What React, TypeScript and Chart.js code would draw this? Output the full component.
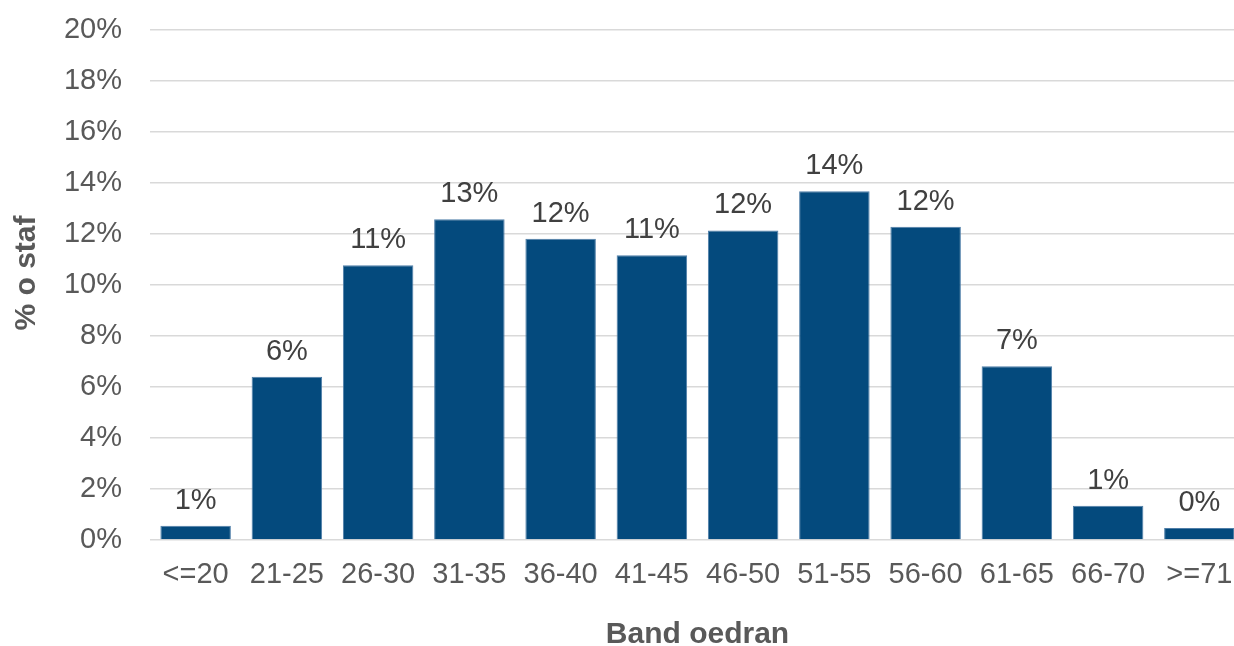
import React, { useEffect, useRef } from 'react';
import { Chart, registerables } from 'chart.js';

Chart.register(...registerables);

const categories = ['<=20', '21-25', '26-30', '31-35', '36-40', '41-45', '46-50', '51-55', '56-60', '61-65', '66-70', '>=71'];
const values = [0.56, 6.4, 10.77, 12.58, 11.81, 11.17, 12.14, 13.68, 12.28, 6.81, 1.34, 0.47];
const yTickValues = [0, 2, 4, 6, 8, 10, 12, 14, 16, 18, 20];
const xTitle = 'Band oedran';
const yTitle = '% o staf';

const FONT = "'Liberation Sans', Arial, sans-serif";
const TICK_COLOR = '#595959';
const LABEL_COLOR = '#404040';
const BAR_COLOR = '#044A7D';

const dataLabelPlugin = {
  id: 'dataLabels',
  afterDatasetsDraw(chart: any) {
    const ctx = chart.ctx;
    const meta = chart.getDatasetMeta(0);
    ctx.save();
    ctx.font = `29px ${FONT}`;
    ctx.fillStyle = LABEL_COLOR;
    ctx.textAlign = 'center';
    ctx.textBaseline = 'alphabetic';
    meta.data.forEach((bar: any, i: number) => {
      ctx.fillText(Math.round(values[i]) + '%', bar.x, bar.y - 17);
    });
    ctx.restore();
  },
};

const yTitlePlugin = {
  id: 'yTitle',
  afterDraw(chart: any) {
    const ctx = chart.ctx;
    const area = chart.chartArea;
    ctx.save();
    ctx.font = `bold 30px ${FONT}`;
    ctx.fillStyle = TICK_COLOR;
    ctx.textAlign = 'center';
    ctx.textBaseline = 'alphabetic';
    ctx.translate(35, (area.top + area.bottom) / 2 - 12);
    ctx.rotate(-Math.PI / 2);
    ctx.fillText(yTitle, 0, 0);
    ctx.restore();
  },
};

export default function App() {
  const canvasRef = useRef<HTMLCanvasElement | null>(null);

  useEffect(() => {
    if (!canvasRef.current) return;
    const chart = new Chart(canvasRef.current, {
      type: 'bar',
      data: {
        labels: categories,
        datasets: [
          {
            data: values,
            backgroundColor: BAR_COLOR,
            borderColor: '#4F7EA8',
            borderWidth: 1,
            borderSkipped: 'start',
            barPercentage: 0.7726,
            categoryPercentage: 1,
          },
        ],
      },
      options: {
        responsive: false,
        animation: false,
        devicePixelRatio: 1,
        layout: { padding: { top: 30, right: 0, bottom: 0, left: 0 } },
        plugins: {
          legend: { display: false },
          tooltip: { enabled: false },
          title: { display: false },
        },
        scales: {
          x: {
            grid: { display: false },
            border: { display: false },
            ticks: {
              color: TICK_COLOR,
              font: { family: FONT, size: 29 },
              padding: 10,
              maxRotation: 0,
              autoSkip: false,
            },
            title: {
              display: true,
              text: xTitle,
              color: TICK_COLOR,
              font: { family: FONT, size: 30, weight: 'bold', lineHeight: 0.76 },
              padding: 0,
            },
            afterFit: (scale: any) => {
              scale.height = 106;
              scale.paddingLeft = 0;
              scale.paddingRight = 0;
            },
          },
          y: {
            min: 0,
            max: 20,
            afterBuildTicks: (scale: any) => {
              scale.ticks = yTickValues.map((v) => ({ value: v }));
            },
            grid: { color: '#D9D9D9', lineWidth: 1.5, drawTicks: false },
            border: { display: false },
            ticks: {
              color: TICK_COLOR,
              font: { family: FONT, size: 29 },
              padding: 28,
              callback: (v: any) => v + '%',
            },
            afterFit: (scale: any) => {
              scale.width = 150;
              scale.paddingTop = 0;
              scale.paddingBottom = 0;
            },
          },
        },
      },
      plugins: [dataLabelPlugin, yTitlePlugin],
    });
    return () => chart.destroy();
  }, []);

  return (
    <div
      style={{
        position: 'fixed',
        left: 0,
        top: 0,
        width: 1234,
        height: 646,
        overflow: 'hidden',
        background: '#ffffff',
      }}
    >
      <canvas ref={canvasRef} width={1245} height={646} style={{ display: 'block', width: 1245, height: 646 }} />
    </div>
  );
}
